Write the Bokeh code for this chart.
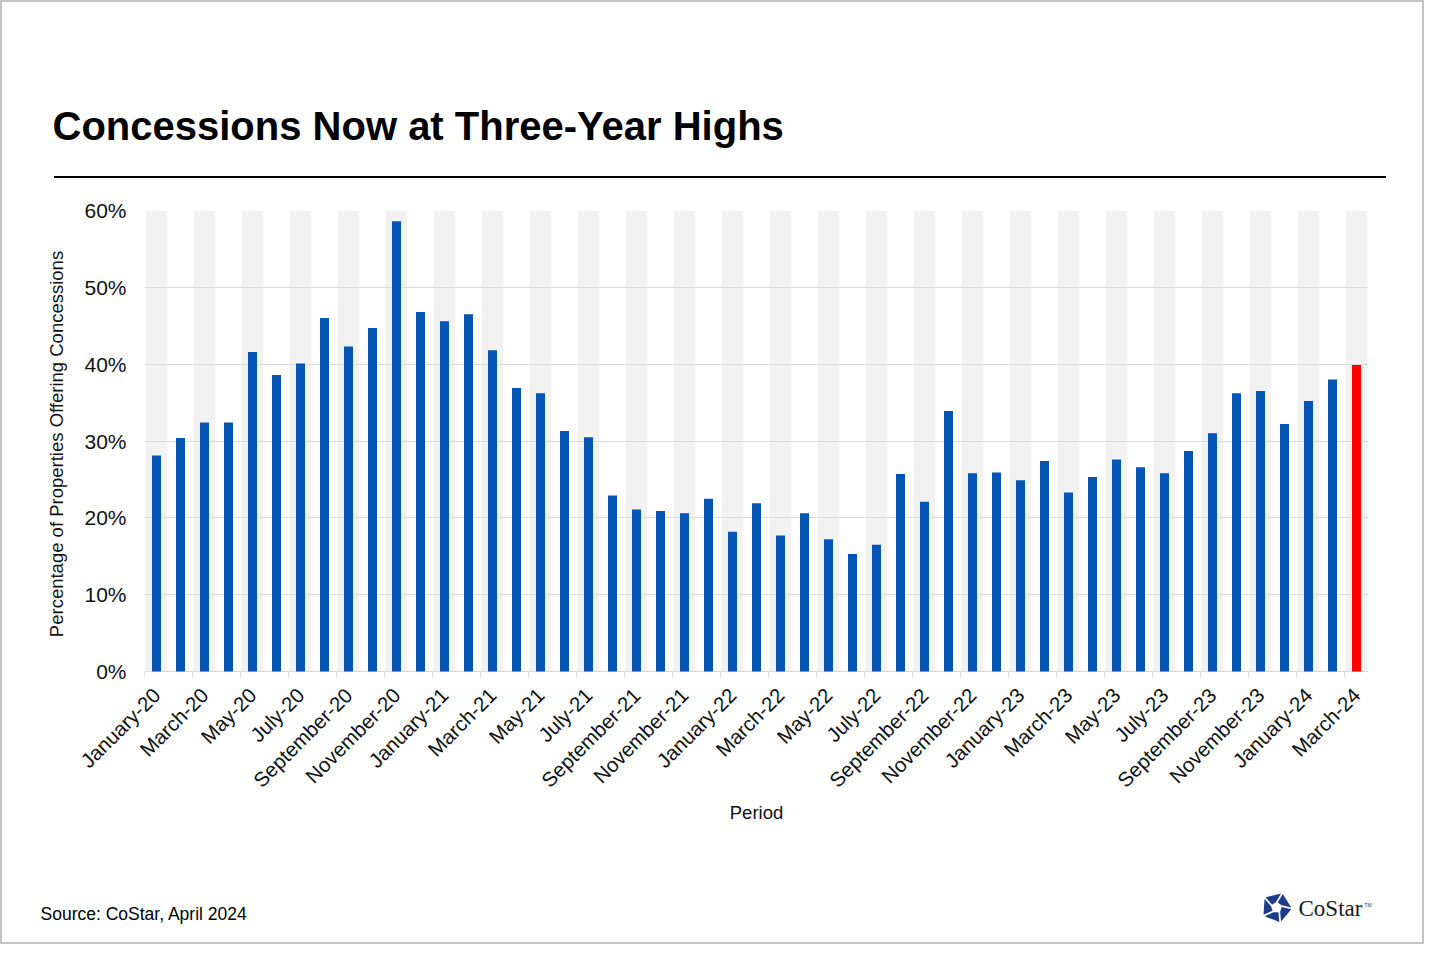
import math
from bokeh.plotting import figure
from bokeh.models import (Range1d, FixedTicker, PrintfTickFormatter, ColumnDataSource,
                          Label, Div)
from bokeh.layouts import column
from bokeh.core.properties import value
from bokeh.embed import file_html
from bokeh.resources import INLINE

# ---------------- data ----------------
months = [
    "January-20", "February-20", "March-20", "April-20", "May-20", "June-20",
    "July-20", "August-20", "September-20", "October-20", "November-20", "December-20",
    "January-21", "February-21", "March-21", "April-21", "May-21", "June-21",
    "July-21", "August-21", "September-21", "October-21", "November-21", "December-21",
    "January-22", "February-22", "March-22", "April-22", "May-22", "June-22",
    "July-22", "August-22", "September-22", "October-22", "November-22", "December-22",
    "January-23", "February-23", "March-23", "April-23", "May-23", "June-23",
    "July-23", "August-23", "September-23", "October-23", "November-23", "December-23",
    "January-24", "February-24", "March-24",
]
concession_pct = [
    28.1, 30.4, 32.4, 32.4, 41.6, 38.6, 40.1, 46.0, 42.3, 44.7, 58.6, 46.8,
    45.6, 46.5, 41.8, 36.9, 36.2, 31.3, 30.5, 22.9, 21.1, 20.9, 20.6, 22.5,
    18.2, 21.9, 17.7, 20.6, 17.2, 15.3, 16.5, 25.7, 22.1, 33.9, 25.8, 25.9,
    24.9, 27.4, 23.3, 25.3, 27.6, 26.6, 25.8, 28.7, 31.0, 36.2, 36.5, 32.2,
    35.2, 38.0, 39.9,
]
highlight_month = "March-24"
y_ticks = [0, 10, 20, 30, 40, 50, 60]
title_text = "Concessions Now at Three-Year Highs"
y_label = "Percentage of Properties Offering Concessions"
x_label = "Period"
source_text = "Source: CoStar, April 2024"
logo_text = "CoStar"

# ---------------- style ----------------
FONT = "Liberation Sans"
BLUE = "#0555B5"
RED = "#FF0000"
GRID = "#D9D9D9"
BAND = "#F2F2F2"
TXT = "#111111"
W = 1420
OFF = 2  # border width
MID = 0.347  # baseline-to-anchor shift observed for text, as a fraction of font size

# page-pixel geometry of the plot frame
FR_L, FR_R, FR_T, FR_B = 144, 1368, 210, 677
BL, BR = FR_L - OFF, W + OFF - FR_R

# vertical bands of the page (top, bottom)
HDR = (OFF, 176)
RULE = (176, 178)
MAIN = (178, 840)
FTR = (840, 942)

month_index = list(range(len(months)))
labeled_index = month_index[::2]
label_map = {i: months[i] for i in labeled_index}


def deco_fig(band, mb_top, mb_bottom):
    top, bottom = band
    f = figure(width=W, height=bottom - top,
               x_range=Range1d(FR_L, FR_R),
               y_range=Range1d(bottom - mb_bottom, top + mb_top),
               toolbar_location=None, output_backend="svg",
               x_axis_location=None, y_axis_location=None,
               min_border_left=BL, min_border_right=BR,
               min_border_top=mb_top, min_border_bottom=mb_bottom)
    f.title.text = ""
    f.grid.visible = False
    f.outline_line_color = None
    f.background_fill_color = "white"
    f.border_fill_color = "white"
    return f


def text_y(baseline, size):
    return baseline - MID * size


# ---------------- header ----------------
hdr = deco_fig(HDR, 170, 0)
hdr.add_layout(Label(x=52, y=text_y(139.5, 40), text=title_text, text_font=FONT,
                     text_font_style="bold", text_font_size="40px",
                     text_color="#000000", text_align="left",
                     text_baseline="alphabetic"), "above")

rule = Div(text="", width=1386 - 54, height=RULE[1] - RULE[0],
           margin=(0, 0, 0, 54 - OFF), styles={"background-color": "#000000"})

# ---------------- main chart ----------------
y_floor = -0.78
p = figure(width=W, height=MAIN[1] - MAIN[0],
           x_range=Range1d(-0.5, len(months) - 0.5),
           y_range=Range1d(y_floor, y_ticks[-1]),
           toolbar_location=None, output_backend="svg",
           min_border_left=BL, min_border_right=BR,
           min_border_top=FR_T - MAIN[0], min_border_bottom=MAIN[1] - FR_B)
p.title.text = ""
p.outline_line_color = None
p.background_fill_color = "white"
p.border_fill_color = "white"

band_src = ColumnDataSource(dict(x=labeled_index,
                                 top=[y_ticks[-1]] * len(labeled_index),
                                 edge=[i - 0.5 for i in labeled_index]))
p.vbar(x="x", top="top", bottom=0, width=0.9, source=band_src,
       fill_color=BAND, line_color=None, level="image")

colors = [RED if m == highlight_month else BLUE for m in months]
src = ColumnDataSource(dict(x=month_index, month=months, pct=concession_pct, color=colors))
p.vbar(x="x", top="pct", bottom=0, width=0.375, source=src,
       fill_color="color", line_color=None)

p.segment(x0="edge", y0=0, x1="edge", y1=y_floor, source=band_src,
          line_color=GRID, line_width=1)

p.xgrid.visible = False
p.ygrid.ticker = FixedTicker(ticks=y_ticks)
p.ygrid.grid_line_color = GRID
p.ygrid.grid_line_width = 1

ya = p.yaxis[0]
ya.ticker = FixedTicker(ticks=y_ticks)
ya.formatter = PrintfTickFormatter(format="%d%%")
ya.axis_line_color = None
ya.major_tick_line_color = None
ya.minor_tick_line_color = None
ya.major_tick_out = 0
ya.major_tick_in = 0
ya.major_label_standoff = 18
ya.major_label_text_font = FONT
ya.major_label_text_font_size = "21px"
ya.major_label_text_color = TXT
ya.axis_label = y_label
ya.axis_label_text_font = FONT
ya.axis_label_text_font_size = "18.5px"
ya.axis_label_text_font_style = "normal"
ya.axis_label_text_color = TXT
ya.axis_label_standoff = 14

xa = p.xaxis[0]
xa.ticker = FixedTicker(ticks=labeled_index)
xa.major_label_overrides = label_map
xa.axis_line_color = None
xa.major_tick_line_color = None
xa.minor_tick_line_color = None
xa.major_tick_out = 0
xa.major_tick_in = 0
xa.major_label_orientation = math.pi / 4
xa.major_label_standoff = 14
xa.major_label_text_font = FONT
xa.major_label_text_font_size = "20.5px"
xa.major_label_text_color = TXT
xa.axis_label = x_label
xa.axis_label_text_font = FONT
xa.axis_label_text_font_size = "18.5px"
xa.axis_label_text_font_style = "normal"
xa.axis_label_text_color = TXT
xa.axis_label_standoff = -1

# ---------------- footer ----------------
ftr = deco_fig(FTR, 50, 0)
ftr.add_layout(Label(x=40, y=text_y(920, 17.5), text=source_text, text_font=FONT,
                     text_font_size="17.5px", text_color="#000000",
                     text_align="left", text_baseline="alphabetic"), "above")
ftr.add_layout(Label(x=1364, y=text_y(906, 5), text="TM", text_font=FONT,
                     text_font_size="5px", text_color="#333333",
                     text_align="left", text_baseline="alphabetic"), "above")

# CoStar logo (pinwheel of five pieces) + word mark
cx, cy = 1276.0, 907.0
r_in, r_out = 5.0, 16.5
xs, ys = [], []
for k in range(5):
    a0 = math.radians(-90 + 72 * k)
    a1 = math.radians(-90 + 72 * (k + 1))
    b0 = a0 + math.radians(22)
    b1 = a1 + math.radians(22)
    pts = [(cx + r_in * math.cos(a0), cy + r_in * math.sin(a0)),
           (cx + r_out * math.cos(b0), cy + r_out * math.sin(b0)),
           (cx + r_out * math.cos(b1), cy + r_out * math.sin(b1)),
           (cx + r_in * math.cos(a1), cy + r_in * math.sin(a1))]
    mx = sum(q[0] for q in pts) / 4
    my = sum(q[1] for q in pts) / 4
    s = 0.82
    xs.append([mx + (q[0] - mx) * s for q in pts])
    ys.append([my + (q[1] - my) * s for q in pts])
ftr.patches(xs=xs, ys=ys, fill_color="#1E3C87", line_color=None)
ftr.text(x=[1298], y=[text_y(916, 23)], text=[logo_text],
         text_font=value("Liberation Serif"),
         text_font_size="23px", text_color="#1A1A1A",
         text_align="left", text_baseline="alphabetic")

layout = column(hdr, rule, p, ftr, spacing=0,
                styles={"border": "2px solid #C4C4C4"})

open("out.html", "w").write(file_html(layout, INLINE))
